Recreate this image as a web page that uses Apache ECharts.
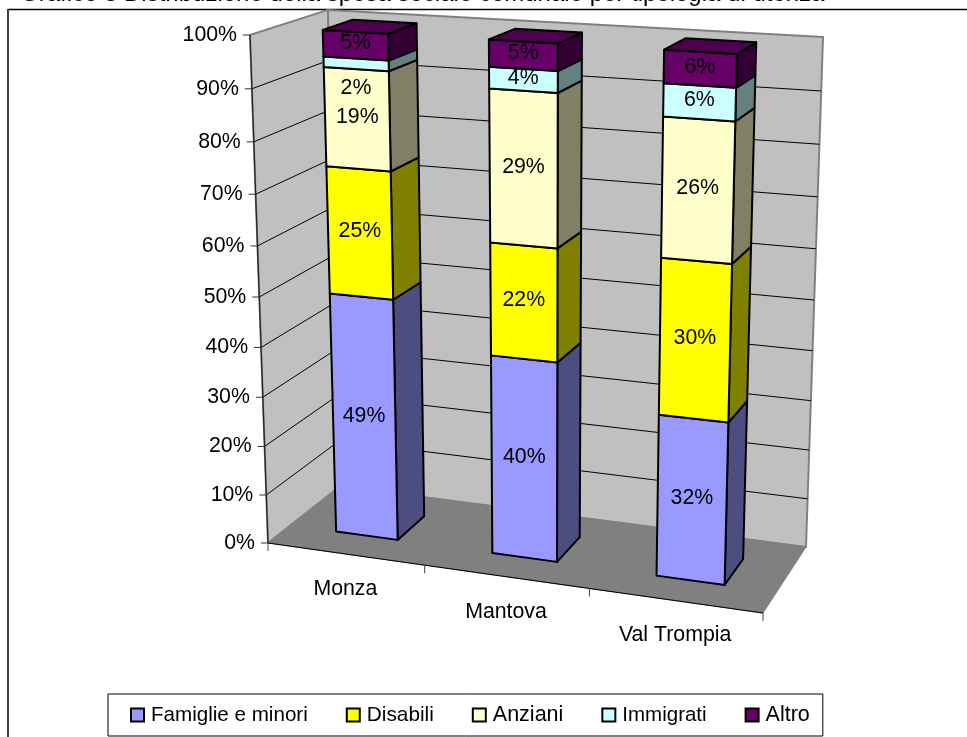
<!DOCTYPE html>
<html>
<head>
<meta charset="utf-8">
<style>html,body{margin:0;padding:0;background:#fff;overflow:hidden}#chart{width:967px;height:737px}</style>
<script src="https://cdn.jsdelivr.net/npm/echarts@6/dist/echarts.min.js"></script>
</head>
<body>
<div id="chart"></div>
<script>
// Spending shares per territory, in percent of each column.
const categories = ['Monza', 'Mantova', 'Val Trompia'];
const famiglie  = [49, 40, 32];
const disabili  = [25, 22, 30];
const anziani   = [19, 29, 26];
const immigrati = [2, 4, 6];
const altro     = [5, 5, 6];
const valueTicks = [0, 10, 20, 30, 40, 50, 60, 70, 80, 90, 100];
const titleText = 'Grafico 3 Distribuzione della spesa sociale comunale per tipologia di utenza';

const FONT = '"Liberation Sans", Arial, sans-serif';
const FONT_SIZE = 21.3;

// Each layer: legend name, values, front colour, side colour, legend text size.
const layers = [
  { name: 'Famiglie e minori', values: famiglie,  face: '#9999ff', side: '#4d4d80', legendSize: 20.6 },
  { name: 'Disabili',          values: disabili,  face: '#ffff00', side: '#808000', legendSize: 20.8 },
  { name: 'Anziani',           values: anziani,   face: '#ffffcc', side: '#808066', legendSize: 21.5 },
  { name: 'Immigrati',         values: immigrati, face: '#ccffff', side: '#668080', legendSize: 20.5 },
  { name: 'Altro',             values: altro,     face: '#660066', side: '#330033', top: '#4d004d', legendSize: 21.5 }
];

// Perspective camera of the 3D box: u across, v up, w into the page, all 0..1.
function project(u, v, w) {
  const d = 1 - 0.0741 * u - 0.061 * v + 0.0699 * w;
  return [
    (268 + 438.5 * u - 33.25 * v + 96.1 * w) / d,
    (543 + 24.6 * u - 510.1 * v - 22.9 * w) / d
  ];
}

// Column footprint: share of the category band and depth range in the box.
const BAR_RATIO = 0.4;
const DEPTH_FRONT = 0.3;
const DEPTH_BACK = 0.7;

// Axis pixel position to box coordinate, so the value and category scales drive everything.
function boxCoord(params, api, cat, value) {
  const cs = params.coordSys;
  const p = api.coord([cat, value]);
  return [(p[0] - cs.x) / cs.width, (cs.y + cs.height - p[1]) / cs.height];
}

function poly(points, fill, stroke, lineWidth) {
  return { type: 'polygon', shape: { points }, style: { fill, stroke, lineWidth, lineJoin: 'round' }, silent: true };
}
function seg(a, b, stroke, lineWidth) {
  return { type: 'line', shape: { x1: a[0], y1: a[1], x2: b[0], y2: b[1] }, style: { stroke, lineWidth }, silent: true };
}
function txt(x, y, text, align) {
  return { type: 'text', silent: true, style: { x, y, text, fill: '#000', font: FONT_SIZE + 'px ' + FONT, align: align || 'center', verticalAlign: 'middle' } };
}

// Walls, floor, gridlines, tick marks and axis labels.
function renderBox(params, api) {
  if (params.dataIndex !== 0) return null;
  const kids = [];
  const wall = '#c0c0c0', edge = '#808080';
  const vOf = t => boxCoord(params, api, 0, t)[1];
  const v0 = vOf(valueTicks[0]), v1 = vOf(valueTicks[valueTicks.length - 1]);
  kids.push(poly([project(0, v0, 0), project(0, v0, 1), project(0, v1, 1), project(0, v1, 0)], wall, edge, 2));
  kids.push(poly([project(0, v0, 1), project(1, v0, 1), project(1, v1, 1), project(0, v1, 1)], wall, edge, 2));
  kids.push(poly([project(0, v0, 0), project(1, v0, 0), project(1, v0, 1), project(0, v0, 1)], '#808080', '#808080', 1));

  valueTicks.forEach(t => {
    const v = vOf(t);
    const front = project(0, v, 0);
    if (t !== valueTicks[0] && t !== valueTicks[valueTicks.length - 1]) {
      kids.push(seg(front, project(0, v, 1), '#000', 1));
      kids.push(seg(project(0, v, 1), project(1, v, 1), '#000', 1));
    }
    kids.push(seg([front[0] - 7, front[1]], front, '#333', 1));
    kids.push(txt(front[0] - 13, front[1], t + '%', 'right'));
  });
  kids.push(seg(project(0, v0, 0), project(0, v1, 0), '#222', 1.2));
  kids.push(seg(project(0, v0, 0), project(1, v0, 0), '#000', 1.2));

  const band = api.size([1, 0])[0] / params.coordSys.width;
  categories.forEach((name, i) => {
    const uc = boxCoord(params, api, i, valueTicks[0])[0];
    const left = project(uc - band / 2, v0, 0);
    kids.push(seg(left, [left[0], left[1] + 8], '#444', 1));
    const c = project(uc, v0, 0);
    kids.push(txt(c[0], c[1] + 35, name));
  });
  const end = project(1, v0, 0);
  kids.push(seg(end, [end[0], end[1] + 8], '#444', 1));
  return { type: 'group', children: kids };
}

// Individual nudges for data labels that sit away from their segment centre.
const labelShift = { 'Monza|Immigrati': 26 };

function renderLayer(layer, isTop) {
  return function (params, api) {
    const cat = api.value(0), base = api.value(1), top = api.value(2);
    const half = api.size([1, 0])[0] / params.coordSys.width * BAR_RATIO / 2;
    const [uc, vb] = boxCoord(params, api, cat, base);
    const vt = boxCoord(params, api, cat, top)[1];
    const ul = uc - half, ur = uc + half;
    const f = DEPTH_FRONT, b = DEPTH_BACK;
    const kids = [
      poly([project(ur, vb, f), project(ur, vb, b), project(ur, vt, b), project(ur, vt, f)], layer.side, '#000', 2),
      poly([project(ul, vb, f), project(ur, vb, f), project(ur, vt, f), project(ul, vt, f)], layer.face, '#000', 2)
    ];
    if (isTop) {
      kids.push(poly([project(ul, vt, f), project(ur, vt, f), project(ur, vt, b), project(ul, vt, b)], layer.top, '#000', 2));
    }
    const mid = project(uc, (vb + vt) / 2, f);
    const shift = labelShift[categories[cat] + '|' + layer.name] || 0;
    kids.push(txt(mid[0], mid[1] - 2 + shift, api.value(3) + '%'));
    return { type: 'group', children: kids };
  };
}

// Stack the layers into [category, from, to, value] rows.
const running = categories.map(() => 0);
const layerSeries = layers.map((layer, n) => {
  const rows = layer.values.map((val, i) => {
    const row = [i, running[i], running[i] + val, val];
    running[i] += val;
    return row;
  });
  return {
    type: 'custom',
    name: layer.name,
    coordinateSystem: 'cartesian2d',
    clip: false,
    z: 3,
    itemStyle: { color: layer.face },
    encode: { x: 0, y: [1, 2] },
    data: rows,
    renderItem: renderLayer(layer, n === layers.length - 1)
  };
});

const chart = echarts.init(document.getElementById('chart'));
chart.setOption({
  animation: false,
  backgroundColor: '#fff',
  title: {
    text: titleText,
    left: 20,
    top: -18,
    padding: 0,
    textStyle: { fontFamily: FONT, fontSize: 24, fontWeight: 'normal', color: '#000' }
  },
  grid: { left: 0, right: 0, top: 0, bottom: 0 },
  xAxis: { type: 'category', data: categories, show: false },
  yAxis: { type: 'value', min: 0, max: 100, interval: 10, show: false },
  legend: {
    data: layers.map(l => ({ name: l.name, textStyle: { fontSize: l.legendSize, padding: [0, 0, 0, 2] } })),
    left: 108,
    top: 694,
    icon: 'rect',
    itemWidth: 13,
    itemHeight: 13,
    itemGap: 38,
    padding: [10, 13, 10, 22],
    borderColor: '#000',
    borderWidth: 1,
    backgroundColor: '#fff',
    selectedMode: false,
    itemStyle: { borderColor: '#000', borderWidth: 2 },
    textStyle: { fontFamily: FONT, fontSize: 20.5, color: '#000' }
  },
  graphic: [
    { type: 'line', shape: { x1: 8, y1: 9.5, x2: 967, y2: 9.5 }, style: { stroke: '#000', lineWidth: 1.5 }, silent: true },
    { type: 'line', shape: { x1: 8, y1: 9, x2: 8, y2: 737 }, style: { stroke: '#404040', lineWidth: 2 }, silent: true }
  ],
  series: [
    {
      type: 'custom',
      name: 'box',
      coordinateSystem: 'cartesian2d',
      clip: false,
      z: 1,
      encode: { x: 0, y: 1 },
      data: [[0, 0]],
      renderItem: renderBox
    }
  ].concat(layerSeries)
});
</script>
</body>
</html>
